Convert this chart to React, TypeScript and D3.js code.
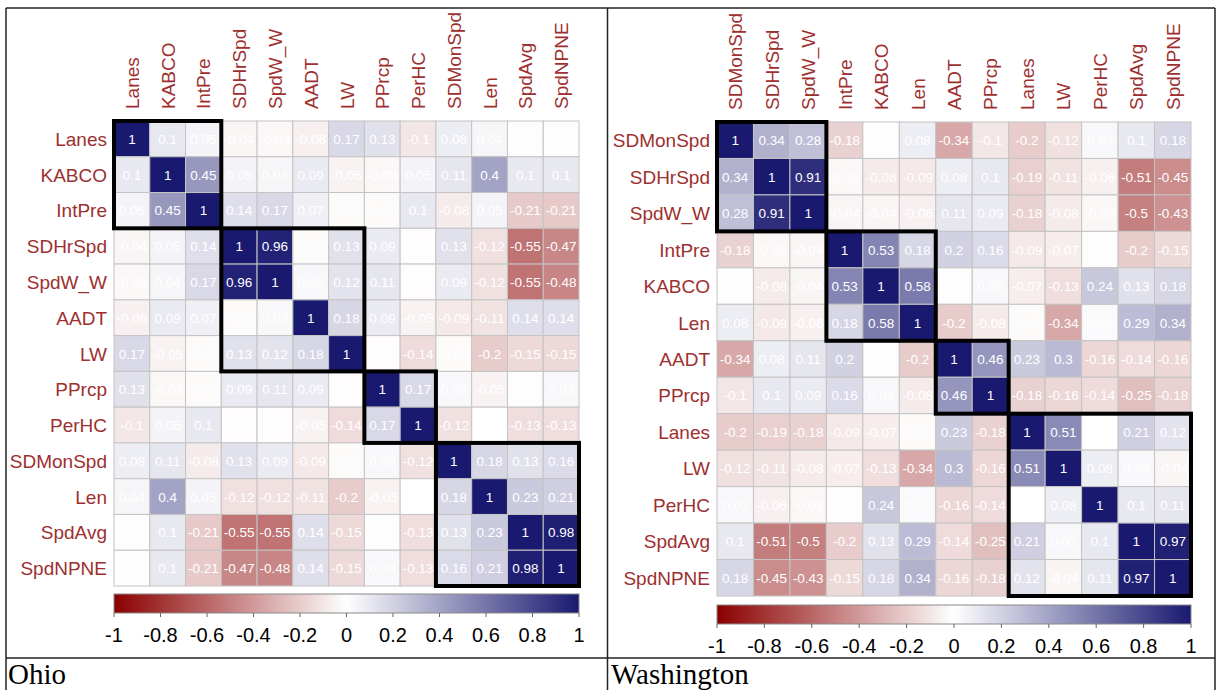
import React from 'react';
import * as d3 from 'd3';

// Ohio correlation matrix (hclust order)
const ohioVars = ['Lanes', 'KABCO', 'IntPre', 'SDHrSpd', 'SpdW_W', 'AADT', 'LW', 'PPrcp', 'PerHC', 'SDMonSpd', 'Len', 'SpdAvg', 'SpdNPNE'];
const ohioCorr = [
  [1, 0.1, 0.05, -0.04, -0.03, -0.06, 0.17, 0.13, -0.1, 0.08, 0.04, 0.01, 0.01],
  [0.1, 1, 0.45, 0.05, 0.04, 0.09, -0.05, -0.03, 0.05, 0.11, 0.4, 0.1, 0.1],
  [0.05, 0.45, 1, 0.14, 0.17, 0.07, -0.02, -0.02, 0.1, -0.08, 0.05, -0.21, -0.21],
  [-0.04, 0.05, 0.14, 1, 0.96, -0.02, 0.13, 0.09, -0.01, 0.13, -0.12, -0.55, -0.47],
  [-0.03, 0.04, 0.17, 0.96, 1, 0.03, 0.12, 0.11, -0.01, 0.09, -0.12, -0.55, -0.48],
  [-0.06, 0.09, 0.07, -0.02, 0.03, 1, 0.18, 0.09, -0.05, -0.09, -0.11, 0.14, 0.14],
  [0.17, -0.05, -0.02, 0.13, 0.12, 0.18, 1, -0.01, -0.14, -0.02, -0.2, -0.15, -0.15],
  [0.13, -0.03, -0.02, 0.09, 0.11, 0.09, -0.01, 1, 0.17, 0.03, -0.05, 0.01, 0.03],
  [-0.1, 0.05, 0.1, -0.01, -0.01, -0.05, -0.14, 0.17, 1, -0.12, 0, -0.13, -0.13],
  [0.08, 0.11, -0.08, 0.13, 0.09, -0.09, -0.02, 0.03, -0.12, 1, 0.18, 0.13, 0.16],
  [0.04, 0.4, 0.05, -0.12, -0.12, -0.11, -0.2, -0.05, 0, 0.18, 1, 0.23, 0.21],
  [0.01, 0.1, -0.21, -0.55, -0.55, 0.14, -0.15, 0.01, -0.13, 0.13, 0.23, 1, 0.98],
  [0.01, 0.1, -0.21, -0.47, -0.48, 0.14, -0.15, 0.03, -0.13, 0.16, 0.21, 0.98, 1],
];
// clusters as [first, last] index
const ohioClusters = [[0, 2], [3, 6], [7, 8], [9, 12]];

// Washington correlation matrix
const waVars = ['SDMonSpd', 'SDHrSpd', 'SpdW_W', 'IntPre', 'KABCO', 'Len', 'AADT', 'PPrcp', 'Lanes', 'LW', 'PerHC', 'SpdAvg', 'SpdNPNE'];
const waCorr = [
  [1, 0.34, 0.28, -0.18, 0.01, 0.08, -0.34, -0.1, -0.2, -0.12, 0.03, 0.1, 0.18],
  [0.34, 1, 0.91, -0.03, -0.08, -0.09, 0.08, 0.1, -0.19, -0.11, -0.06, -0.51, -0.45],
  [0.28, 0.91, 1, -0.04, -0.04, -0.06, 0.11, 0.09, -0.18, -0.08, -0.03, -0.5, -0.43],
  [-0.18, -0.03, -0.04, 1, 0.53, 0.18, 0.2, 0.16, -0.09, -0.07, 0.01, -0.2, -0.15],
  [0.01, -0.08, -0.04, 0.53, 1, 0.58, 0.01, 0.03, -0.07, -0.13, 0.24, 0.13, 0.18],
  [0.08, -0.09, -0.06, 0.18, 0.58, 1, -0.2, -0.08, -0.02, -0.34, 0.02, 0.29, 0.34],
  [-0.34, 0.08, 0.11, 0.2, 0.01, -0.2, 1, 0.46, 0.23, 0.3, -0.16, -0.14, -0.16],
  [-0.1, 0.1, 0.09, 0.16, 0.03, -0.08, 0.46, 1, -0.18, -0.16, -0.14, -0.25, -0.18],
  [-0.2, -0.19, -0.18, -0.09, -0.07, -0.02, 0.23, -0.18, 1, 0.51, 0, 0.21, 0.12],
  [-0.12, -0.11, -0.08, -0.07, -0.13, -0.34, 0.3, -0.16, 0.51, 1, 0.08, 0.03, -0.04],
  [0.03, -0.06, -0.03, 0.01, 0.24, 0.02, -0.16, -0.14, 0, 0.08, 1, 0.1, 0.11],
  [0.1, -0.51, -0.5, -0.2, 0.13, 0.29, -0.14, -0.25, 0.21, 0.03, 0.1, 1, 0.97],
  [0.18, -0.45, -0.43, -0.15, 0.18, 0.34, -0.16, -0.18, 0.12, -0.04, 0.11, 0.97, 1],
];
const waClusters = [[0, 2], [3, 5], [6, 7], [8, 12]];

const barTicks = [-1, -0.8, -0.6, -0.4, -0.2, 0, 0.2, 0.4, 0.6, 0.8, 1];

const color = d3.scaleLinear<string>()
  .domain([-1, 0, 1])
  .range(['#8b0000', '#ffffff', '#191970'])
  .interpolate(d3.interpolateRgb);

const SANS = '"Liberation Sans", Arial, sans-serif';
const SERIF = '"Liberation Serif", "Times New Roman", serif';
const LABEL_COL = '#9e2f2f';

type PanelProps = {
  id: string;
  vars: string[];
  corr: number[][];
  clusters: number[][];
  left: number;
  top: number;
  size: number;
  barTop: number;
  title: string;
  titleX: number;
};

const Panel = ({ id, vars, corr, clusters, left, top, size, barTop, title, titleX }: PanelProps) => {
  const x = d3.scaleBand<number>().domain(d3.range(vars.length)).range([left, left + size]);
  const y = d3.scaleBand<number>().domain(d3.range(vars.length)).range([top, top + size]);
  const bw = x.bandwidth();
  const bh = y.bandwidth();
  const cb = d3.scaleLinear().domain([-1, 1]).range([left, left + size]);
  const barH = 19;

  return (
    <g>
      <defs>
        <linearGradient id={`grad-${id}`} x1="0" x2="1" y1="0" y2="0">
          {d3.range(0, 21).map(i => {
            const v = -1 + i * 0.1;
            return <stop key={i} offset={`${i * 5}%`} stopColor={color(v)} />;
          })}
        </linearGradient>
      </defs>

      {/* column labels */}
      {vars.map((v, i) => (
        <text key={'c' + i}
          transform={`translate(${x(i)! + bw / 2 + 7},${top - 12}) rotate(-90)`}
          fontFamily={SANS} fontSize={19} fill={LABEL_COL}>{v}</text>
      ))}
      {/* row labels */}
      {vars.map((v, i) => (
        <text key={'r' + i} x={left - 7} y={y(i)! + bh / 2 + 7}
          textAnchor="end" fontFamily={SANS} fontSize={19} fill={LABEL_COL}>{v}</text>
      ))}

      {/* cells */}
      {corr.map((row, r) => row.map((val, c) => (
        <g key={`${r}-${c}`}>
          <rect x={x(c)} y={y(r)} width={bw} height={bh}
            fill={color(val)} stroke="#c4c4c4" strokeWidth={1} />
          <text x={x(c)! + bw / 2} y={y(r)! + bh / 2 + 5} textAnchor="middle"
            fontFamily={SANS} fontSize={13.5} fill="#ffffff">{String(val)}</text>
        </g>
      )))}

      {/* cluster boxes */}
      {clusters.map(([a, b], i) => (
        <rect key={'k' + i} x={x(a)} y={y(a)}
          width={x(b)! + bw - x(a)!} height={y(b)! + bh - y(a)!}
          fill="none" stroke="#000" strokeWidth={4} />
      ))}

      {/* colour bar */}
      <rect x={left} y={barTop} width={size} height={barH}
        fill={`url(#grad-${id})`} stroke="#8a8a8a" strokeWidth={1} />
      {barTicks.map(t => (
        <g key={'t' + t}>
          <line x1={cb(t)} x2={cb(t)} y1={barTop + barH} y2={barTop + barH + 4} stroke="#666" strokeWidth={1} />
          <text x={cb(t)} y={barTop + barH + 29} textAnchor="middle"
            fontFamily={SANS} fontSize={20} fill="#000">{String(t)}</text>
        </g>
      ))}

      <text x={titleX} y={684} fontFamily={SERIF} fontSize={29} fill="#000">{title}</text>
    </g>
  );
};

export default function App() {
  return (
    <svg width={1218} height={690}
      style={{ position: 'absolute', left: 0, top: 0, background: '#fff' }}>
      <rect x={0} y={0} width={1218} height={690} fill="#fff" />
      <Panel id="oh" vars={ohioVars} corr={ohioCorr} clusters={ohioClusters}
        left={114} top={121} size={465} barTop={594} title="Ohio" titleX={8} />
      <Panel id="wa" vars={waVars} corr={waCorr} clusters={waClusters}
        left={717} top={122} size={474} barTop={605} title="Washington" titleX={611} />

      {/* table frame */}
      <g stroke="#222" strokeWidth={1.5} fill="none">
        <line x1={6} x2={1215} y1={8} y2={8} />
        <line x1={6} x2={6} y1={8} y2={690} />
        <line x1={607.5} x2={607.5} y1={8} y2={690} />
        <line x1={1215} x2={1215} y1={8} y2={690} />
        <line x1={6} x2={1215} y1={658} y2={658} />
      </g>
    </svg>
  );
}
